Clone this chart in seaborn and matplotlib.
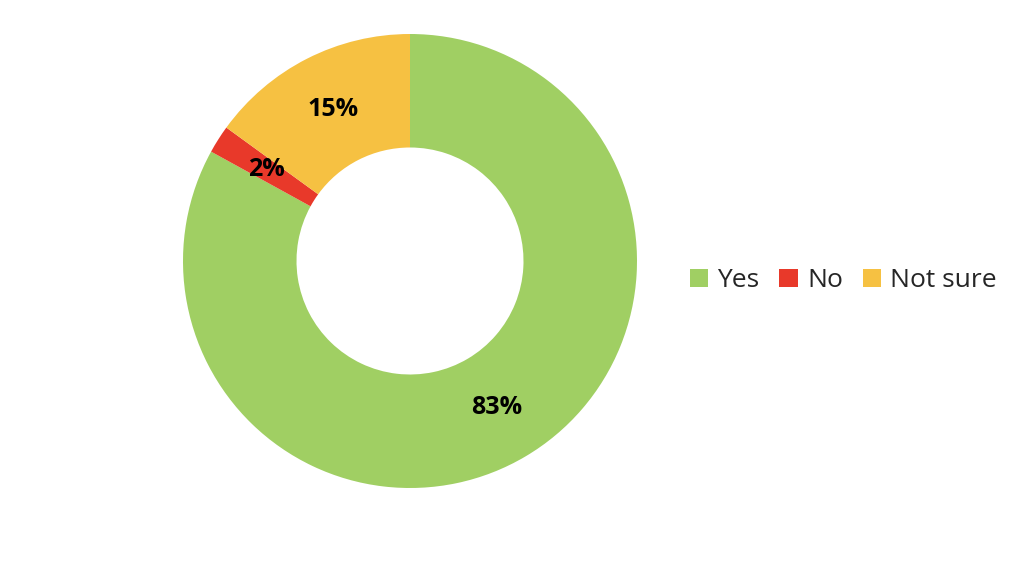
import matplotlib
matplotlib.use("Agg")
import matplotlib.pyplot as plt
import seaborn as sns

sns.set_theme(style="white")
plt.rcParams['font.family'] = ['Open Sans', 'DejaVu Sans']

# --- Data ---
answers = ["Yes", "No", "Not sure"]
shares = [83, 2, 15]
colors = ["#A0CF63", "#E8392A", "#F6C142"]

fig = plt.figure(figsize=(10.24, 5.67), dpi=100)
ax = fig.add_axes([183 / 1024, 79 / 567, 454 / 1024, 454 / 567])

wedges, texts, autotexts = ax.pie(
    shares,
    colors=colors,
    startangle=90,
    counterclock=False,
    autopct="%d%%",
    pctdistance=0.75,
    radius=1.0,
    wedgeprops=dict(width=0.5, edgecolor="none"),
    textprops=dict(fontsize=18, fontweight="bold", color="black"),
)
ax.set_aspect("equal")
ax.set_xlim(-1, 1)
ax.set_ylim(-1, 1)

fig.legend(
    wedges, answers,
    loc="center left", bbox_to_anchor=(666 / 1024, 1 - 281 / 567),
    ncol=3, frameon=False, fontsize=19, labelcolor="#262626",
    handlelength=0.7, handleheight=0.7, handletextpad=0.35, columnspacing=0.75,
)

fig.savefig("out.png", dpi=100, facecolor="white")
